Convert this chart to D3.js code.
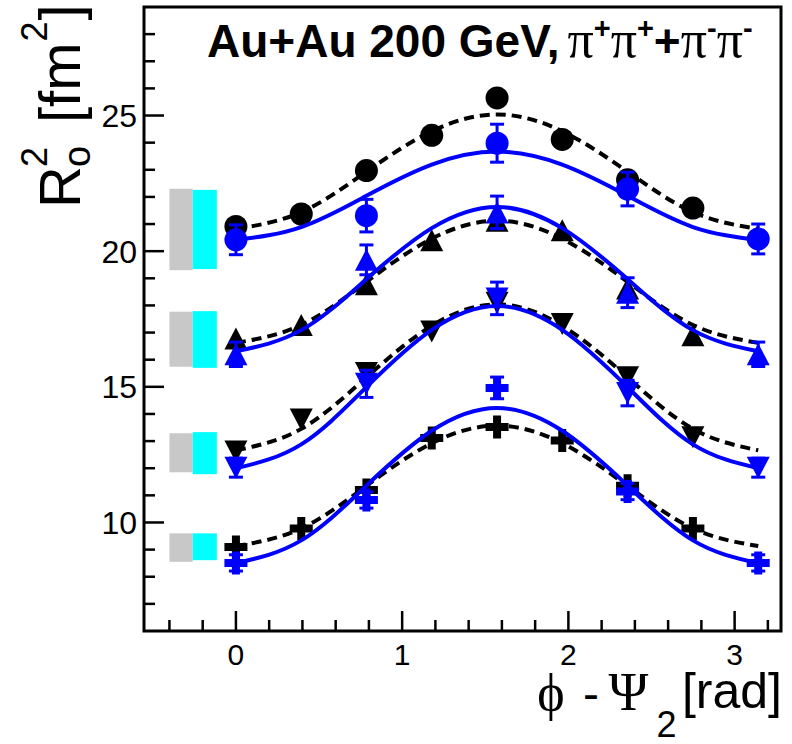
<!DOCTYPE html>
<html><head><meta charset="utf-8">
<script src="https://cdn.jsdelivr.net/npm/d3@7"></script>
<style>body{margin:0;background:#fff}svg{display:block}</style>
</head><body><svg id="c" width="792" height="744"></svg>
<script>
// ---------------- data ----------------
const phiBlack = [0, 0.393, 0.785, 1.178, 1.571, 1.963, 2.356, 2.749];
const phiBlue  = [0, 0.785, 1.571, 2.356, 3.142];
const phiCurve = [0, 0.393, 0.785, 1.178, 1.571, 1.963, 2.356, 2.749, 3.142];

const blackCircle   = [20.91, 21.37, 22.97, 24.27, 25.65, 24.12, 22.63, 21.59];
const blueCircle    = [20.42, 21.31, 23.98, 22.29, 20.45];
const blueCircleErr = [0.55, 0.60, 0.70, 0.62, 0.55];

const blackTriUp    = [16.78, 17.28, 18.78, 20.40, 21.12, 20.77, 18.62, 16.90];
const blueTriUp     = [16.20, 19.68, 21.43, 18.47, 16.20];
const blueTriUpErr  = [0.45, 0.55, 0.60, 0.55, 0.45];

const blackTriDown   = [12.62, 13.80, 15.51, 17.04, 18.10, 17.32, 15.35, 13.14];
const blueTriDown    = [12.02, 15.11, 18.26, 14.77, 12.02];
const blueTriDownErr = [0.35, 0.50, 0.60, 0.47, 0.35];

const blackCross   = [9.10, 9.78, 11.20, 13.11, 13.52, 13.02, 11.35, 9.78];
const blueCross    = [8.51, 10.83, 14.96, 11.14, 8.51];
const blueCrossErr = [0.30, 0.30, 0.40, 0.30, 0.30];

// fit curves (dashed = black, solid = blue), read at phiCurve
const fitBlackCircle = [20.82, 21.44, 22.93, 24.42, 25.04, 24.42, 22.93, 21.44, 20.82];
const fitBlueCircle  = [20.41, 20.89, 22.04, 23.19, 23.67, 23.19, 22.04, 20.89, 20.41];
const fitBlackTriUp  = [16.62, 17.28, 18.87, 20.46, 21.12, 20.46, 18.87, 17.28, 16.62];
const fitBlueTriUp   = [16.31, 17.09, 18.97, 20.85, 21.63, 20.85, 18.97, 17.09, 16.31];
const fitBlackTriDown= [12.66, 13.45, 15.35, 17.25, 18.04, 17.25, 15.35, 13.45, 12.66];
const fitBlueTriDown = [12.00, 12.88, 14.99, 17.10, 17.98, 17.10, 14.99, 12.88, 12.00];
const fitBlackCross  = [9.13, 9.78, 11.35, 12.92, 13.57, 12.92, 11.35, 9.78, 9.13];
const fitBlueCross   = [8.50, 9.34, 11.36, 13.38, 14.22, 13.38, 11.36, 9.34, 8.50];

// systematic boxes [low, high]
const sysGray = [[19.30, 22.30], [15.74, 17.77], [11.85, 13.29], [8.55, 9.60]];
const sysCyan = [[19.34, 22.26], [15.70, 17.79], [11.78, 13.33], [8.61, 9.60]];
const sysGrayX = [-0.40, -0.26];
const sysCyanX = [-0.26, -0.115];

const xTicks = [0, 1, 2, 3];
const yTicks = [10, 15, 20, 25];

// ---------------- layout ----------------
const L = 144, R = 781, T = 7, B = 631;
const svg = d3.select("#c");
const x = d3.scaleLinear().domain([-0.553, 3.279]).range([L, R]);
const y = d3.scaleLinear().domain([6, 29]).range([B, T]);
const BLUE = "#0000ff";
const SANS = "'Liberation Sans', Arial, Helvetica, sans-serif";
const SERIF = "'Liberation Serif', 'Times New Roman', serif";

// systematic boxes
const gBox = svg.append("g");
gBox.selectAll("rect.g").data(sysGray).join("rect")
  .attr("x", x(sysGrayX[0])).attr("width", x(sysGrayX[1]) - x(sysGrayX[0]))
  .attr("y", d => y(d[1])).attr("height", d => y(d[0]) - y(d[1]))
  .attr("fill", "#c8c8c8");
gBox.selectAll("rect.c").data(sysCyan).join("rect")
  .attr("x", x(sysCyanX[0])).attr("width", x(sysCyanX[1]) - x(sysCyanX[0]))
  .attr("y", d => y(d[1])).attr("height", d => y(d[0]) - y(d[1]))
  .attr("fill", "#00ffff");

// marker shapes
function markerPath(kind) {
  if (kind === "up") return "M0,-11L11.5,11L-11.5,11Z";
  if (kind === "down") return "M0,11L11.5,-11L-11.5,-11Z";
  if (kind === "cross") { const a = 11.5, t = 4; return `M${-t},${-a}H${t}V${-t}H${a}V${t}H${t}V${a}H${-t}V${t}H${-a}V${-t}H${-t}Z`; }
  return null;
}
function drawMarkers(g, xs, ys, kind, color) {
  const pts = xs.map((p, i) => [p, ys[i]]);
  if (kind === "circle") {
    g.selectAll(null).data(pts).join("circle")
      .attr("cx", d => x(d[0])).attr("cy", d => y(d[1])).attr("r", 11.5).attr("fill", color);
  } else {
    g.selectAll(null).data(pts).join("path")
      .attr("transform", d => `translate(${x(d[0])},${y(d[1])})`)
      .attr("d", markerPath(kind)).attr("fill", color);
  }
}
function drawErrors(g, xs, ys, es, color) {
  const pts = xs.map((p, i) => [p, ys[i], es[i]]);
  const eg = g.append("g").attr("stroke", color).attr("stroke-width", 3);
  eg.selectAll(null).data(pts).join("line")
    .attr("x1", d => x(d[0])).attr("x2", d => x(d[0]))
    .attr("y1", d => y(d[1] - d[2])).attr("y2", d => y(d[1] + d[2]));
  eg.selectAll(null).data(pts).join("line")
    .attr("x1", d => x(d[0]) - 7).attr("x2", d => x(d[0]) + 7)
    .attr("y1", d => y(d[1] + d[2])).attr("y2", d => y(d[1] + d[2]));
  eg.selectAll(null).data(pts).join("line")
    .attr("x1", d => x(d[0]) - 7).attr("x2", d => x(d[0]) + 7)
    .attr("y1", d => y(d[1] - d[2])).attr("y2", d => y(d[1] - d[2]));
}
const line = d3.line().x((d, i) => x(phiCurve[i])).y(d => y(d)).curve(d3.curveNatural);
function drawCurve(g, vals, color, dashed) {
  g.append("path").datum(vals).attr("d", line).attr("fill", "none")
    .attr("stroke", color).attr("stroke-width", 4)
    .attr("stroke-dasharray", dashed ? "10,6" : null);
}

const rows = [
  {bk: blackCircle, bl: blueCircle, be: blueCircleErr, fk: fitBlackCircle, fb: fitBlueCircle, m: "circle"},
  {bk: blackTriUp, bl: blueTriUp, be: blueTriUpErr, fk: fitBlackTriUp, fb: fitBlueTriUp, m: "up"},
  {bk: blackTriDown, bl: blueTriDown, be: blueTriDownErr, fk: fitBlackTriDown, fb: fitBlueTriDown, m: "down"},
  {bk: blackCross, bl: blueCross, be: blueCrossErr, fk: fitBlackCross, fb: fitBlueCross, m: "cross"}
];
const gPlot = svg.append("g");
rows.forEach(r => {
  drawMarkers(gPlot.append("g"), phiBlack, r.bk, r.m, "#000");
  drawCurve(gPlot, r.fk, "#000", true);
});
rows.forEach(r => {
  drawErrors(gPlot, phiBlue, r.bl, r.be, BLUE);
  drawMarkers(gPlot.append("g"), phiBlue, r.bl, r.m, BLUE);
  drawCurve(gPlot, r.fb, BLUE, false);
});

// axes ticks
const gAx = svg.append("g").attr("stroke", "#000").attr("stroke-width", 2.5);
d3.range(-0.4, 3.25, 0.2).forEach(v => {
  const vv = Math.round(v * 10) / 10;
  const major = Math.abs(vv - Math.round(vv)) < 1e-6;
  gAx.append("line").attr("x1", x(vv)).attr("x2", x(vv)).attr("y1", B).attr("y2", B - (major ? 20 : 11));
});
d3.range(7, 29, 1).forEach(v => {
  const major = v % 5 === 0;
  gAx.append("line").attr("x1", L).attr("x2", L + (major ? 20 : 11)).attr("y1", y(v)).attr("y2", y(v));
});
svg.append("rect").attr("x", L).attr("y", T).attr("width", R - L).attr("height", B - T)
  .attr("fill", "none").attr("stroke", "#000").attr("stroke-width", 3);

// tick labels
svg.selectAll("text.xt").data(xTicks).join("text")
  .attr("x", d => x(d)).attr("y", 665).attr("text-anchor", "middle")
  .attr("font-family", SANS).attr("font-size", 30).text(d => d);
svg.selectAll("text.yt").data(yTicks).join("text")
  .attr("x", 137).attr("y", d => y(d) + 11.5).attr("text-anchor", "end")
  .attr("font-family", SANS).attr("font-size", 32).text(d => d);

// title
const t = svg.append("text").attr("x", 207).attr("y", 57).attr("font-family", SANS)
  .attr("font-weight", "bold").attr("font-size", 46);
t.append("tspan").text("Au+Au 200 GeV,");
t.append("tspan").attr("font-family", SERIF).attr("font-weight", "normal").attr("font-size", 52).attr("dx", 8).text("π");
t.append("tspan").attr("font-family", SANS).attr("font-size", 29).attr("dy", -19).text("+");
t.append("tspan").attr("font-family", SERIF).attr("font-weight", "normal").attr("font-size", 52).attr("dy", 19).text("π");
t.append("tspan").attr("font-family", SANS).attr("font-size", 29).attr("dy", -19).text("+");
t.append("tspan").attr("font-size", 46).attr("dy", 19).text("+");
t.append("tspan").attr("font-family", SERIF).attr("font-weight", "normal").attr("font-size", 52).text("π");
t.append("tspan").attr("font-family", SANS).attr("font-size", 29).attr("dy", -19).text("-");
t.append("tspan").attr("font-family", SERIF).attr("font-weight", "normal").attr("font-size", 52).attr("dy", 19).text("π");
t.append("tspan").attr("font-family", SANS).attr("font-size", 29).attr("dy", -19).text("-");

// x title
const xt = svg.append("g");
xt.append("text").attr("x", 551).attr("y", 710).attr("text-anchor", "middle").attr("font-family", SERIF).attr("font-size", 52).text("ϕ");
xt.append("text").attr("x", 591).attr("y", 710).attr("text-anchor", "middle").attr("font-family", SANS).attr("font-size", 48).text("-");
xt.append("text").attr("x", 628.5).attr("y", 710).attr("text-anchor", "middle").attr("font-family", SERIF).attr("font-size", 54).text("Ψ");
xt.append("text").attr("x", 666.5).attr("y", 737).attr("text-anchor", "middle").attr("font-family", SANS).attr("font-size", 36).text("2");
xt.append("text").attr("x", 782).attr("y", 708).attr("text-anchor", "end").attr("font-family", SANS).attr("font-size", 50).text("[rad]");

// y title (rotated)
const yg = svg.append("g").attr("transform", "translate(80,208) rotate(-90)").attr("font-family", SANS);
const tR = yg.append("text").attr("x", 0).attr("y", 0).attr("font-size", 58).text("R");
const wR = tR.node().getComputedTextLength();
yg.append("text").attr("x", wR - 1).attr("y", -33).attr("font-size", 36).text("2");
yg.append("text").attr("x", wR - 1).attr("y", 10).attr("font-size", 38).text("o");
const tB = yg.append("text").attr("x", 85).attr("y", 0).attr("font-size", 58).text("[fm");
const wB = tB.node().getComputedTextLength();
yg.append("text").attr("x", 85 + wB + 1).attr("y", -33).attr("font-size", 36).text("2");
yg.append("text").attr("x", 85 + wB + 22).attr("y", 0).attr("font-size", 58).text("]");
</script>
</body></html>
